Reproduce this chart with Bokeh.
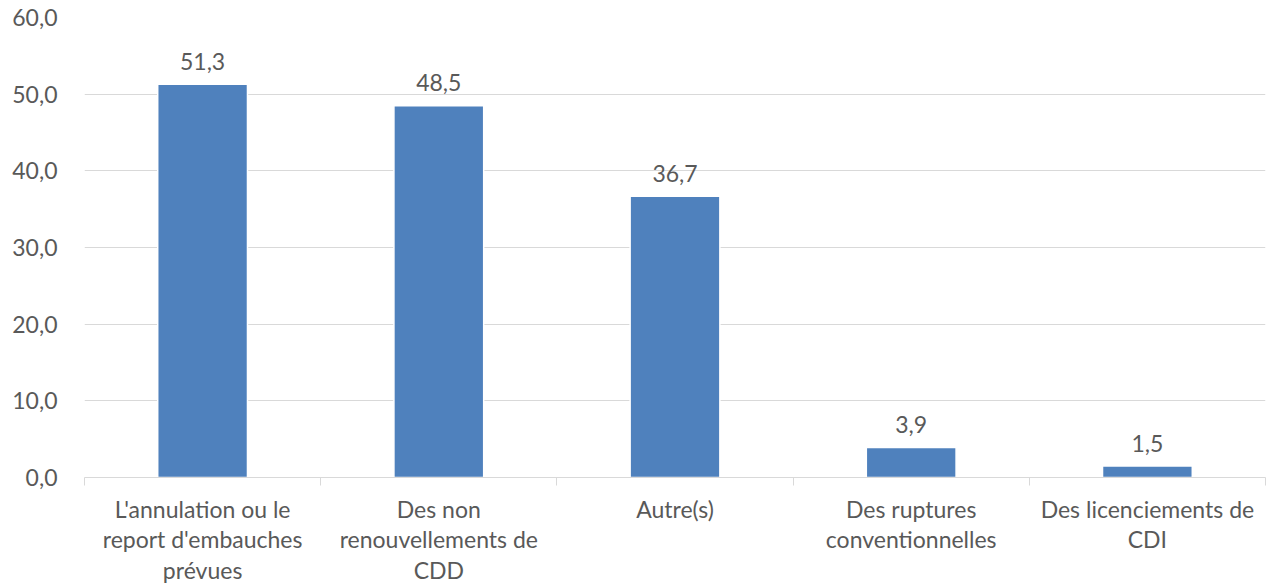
from bokeh.plotting import figure
from bokeh.models import ColumnDataSource, LabelSet, Range1d, FixedTicker
from bokeh.core.properties import value
from bokeh.embed import file_html
from bokeh.resources import INLINE

categories = [
    "L'annulation ou le\nreport d'embauches\nprévues",
    "Des non\nrenouvellements de\nCDD",
    "Autre(s)",
    "Des ruptures\nconventionnelles",
    "Des licenciements de\nCDI",
]
values = [51.3, 48.5, 36.7, 3.9, 1.5]
y_ticks = [0, 10, 20, 30, 40, 50, 60]
y_tick_labels = ["0,0", "10,0", "20,0", "30,0", "40,0", "50,0", "60,0"]

FONT = "Lato"
TXT = "#595959"
GRID = "#d9d9d9"
BAR = "#4F81BD"
FS = "23px"

x = [i + 0.5 for i in range(len(categories))]
bounds = [i for i in range(len(categories) + 1)]
src = ColumnDataSource(dict(
    x=x, top=values,
    label=[f"{v:.1f}".replace(".", ",") for v in values],
))

p = figure(frame_width=1181, frame_height=460,
           x_range=Range1d(0, len(categories)), y_range=Range1d(0, 60),
           output_backend="svg", toolbar_location=None,
           min_border_left=84, min_border_top=17, min_border_right=2,
           min_border_bottom=111)
p.outline_line_color = None
p.background_fill_color = "white"

p.vbar(x="x", top="top", width=0.38, source=src,
       fill_color=BAR, line_color="white", line_width=1.5)

p.add_layout(LabelSet(x="x", y="top", text="label", source=src,
                      text_align="center", text_baseline="middle", y_offset=23,
                      text_font=value(FONT), text_font_size=FS,
                      text_color=TXT))

p.xgrid.visible = False
p.ygrid.ticker = FixedTicker(ticks=y_ticks)
p.ygrid.grid_line_color = GRID
p.ygrid.grid_line_width = 1

ya = p.yaxis[0]
ya.ticker = FixedTicker(ticks=y_ticks)
ya.major_label_overrides = {t: l for t, l in zip(y_ticks, y_tick_labels)}
ya.axis_line_color = None
ya.major_tick_line_color = None
ya.minor_tick_line_color = None
ya.major_tick_out = 0
ya.major_tick_in = 0
ya.major_label_standoff = 27
ya.major_label_text_font = FONT
ya.major_label_text_font_size = FS
ya.major_label_text_color = TXT

xa = p.xaxis[0]
xa.ticker = FixedTicker(ticks=x, minor_ticks=bounds)
xa.major_label_overrides = {xi: c for xi, c in zip(x, categories)}
xa.axis_line_color = GRID
xa.axis_line_width = 1
xa.major_tick_line_color = None
xa.major_tick_out = 0
xa.major_tick_in = 0
xa.minor_tick_line_color = GRID
xa.minor_tick_out = 8
xa.minor_tick_in = 0
xa.major_label_standoff = 9
xa.major_label_text_font = FONT
xa.major_label_text_font_size = FS
xa.major_label_text_color = TXT
xa.major_label_text_line_height = 1.1

open("out.html", "w").write(file_html(p, INLINE))
